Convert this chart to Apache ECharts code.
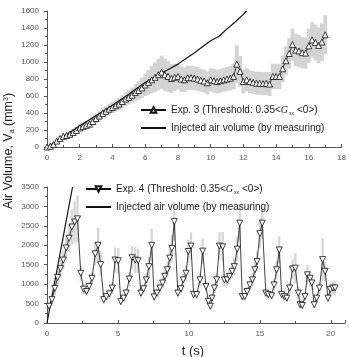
<!DOCTYPE html>
<html>
<head>
<meta charset="utf-8">
<script src="https://cdn.jsdelivr.net/npm/echarts@6/dist/echarts.min.js"></script>
<style>
	html, body { margin: 0; padding: 0; background: #fff; }
	#chart { width: 349px; height: 357px; }
</style>
</head>
<body>
<div id="chart"></div>
<script>
// Exp. 3 (top panel) - time (s), volume, half-width of grey band
var exp3Time = [0, 0.2, 0.4, 0.6, 0.8, 1.0, 1.2, 1.4, 1.6, 1.8,
	2.0, 2.2, 2.4, 2.6, 2.8, 3.0, 3.2, 3.4, 3.6, 3.8,
	4.0, 4.2, 4.4, 4.6, 4.8, 5.0, 5.2, 5.4, 5.6, 5.8,
	6.0, 6.2, 6.4, 6.6, 6.8, 7.0, 7.2, 7.4, 7.6, 7.8,
	8.0, 8.2, 8.4, 8.6, 8.8, 9.0, 9.2, 9.4, 9.6, 9.8,
	10.0, 10.2, 10.4, 10.6, 10.8, 11.0, 11.2, 11.4, 11.6, 11.8,
	12.0, 12.2, 12.4, 12.6, 12.8, 13.0, 13.2, 13.4, 13.6, 13.8,
	14.0, 14.2, 14.4, 14.6, 14.8, 15.0, 15.2, 15.4, 15.6, 15.8,
	16.0, 16.2, 16.4, 16.6, 16.8, 17.0];
var exp3Vol = [0, 10, 30, 70, 100, 125, 135, 150, 170, 195,
	225, 240, 255, 270, 300, 335, 365, 395, 420, 445,
	465, 485, 505, 535, 565, 585, 610, 640, 665, 695,
	730, 760, 790, 820, 850, 880, 850, 830, 805, 820,
	830, 800, 790, 815, 815, 810, 800, 785, 775, 755,
	790, 780, 770, 780, 790, 800, 810, 830, 975, 890,
	770, 790, 770, 760, 750, 750, 745, 750, 740, 830,
	830, 830, 920, 1015, 1100, 1205, 1140, 1130, 1110, 1105,
	1190, 1260, 1230, 1195, 1235, 1320];
var exp3Err = [10, 15, 20, 25, 30, 35, 35, 40, 40, 40,
	45, 45, 50, 50, 50, 55, 55, 60, 60, 65,
	65, 70, 70, 75, 80, 85, 90, 100, 110, 120,
	130, 145, 160, 175, 185, 195, 190, 180, 170, 160,
	150, 150, 145, 145, 140, 140, 140, 135, 135, 135,
	135, 140, 140, 140, 140, 140, 145, 150, 220, 180,
	140, 135, 135, 135, 135, 135, 135, 135, 140, 150,
	150, 150, 160, 170, 180, 190, 190, 190, 185, 185,
	200, 210, 210, 210, 220, 230];

// injected air volume, top panel
var inj3Time = [0, 0.5, 1, 1.5, 2, 2.5, 3, 3.5, 4, 4.5, 5, 5.5, 6, 6.5, 7, 7.5, 8, 8.5, 9, 9.5, 10, 10.5, 11, 11.5, 12, 12.2];
var inj3Vol = [0, 55, 120, 185, 250, 310, 370, 430, 490, 555, 620, 690, 760, 815, 870, 920, 975, 1040, 1105, 1180, 1250, 1300, 1390, 1470, 1560, 1600];

// Exp. 4 (bottom panel)
var exp4Time = [0.15, 0.35, 0.55, 0.75, 0.95, 1.15, 1.35, 1.55, 1.75, 1.95,
	2.15, 2.38, 2.58, 2.78, 2.97, 3.17, 3.4, 3.6, 3.78, 4.0,
	4.18, 4.4, 4.6, 4.8, 5.02, 5.2, 5.4, 5.58, 5.8, 6.0,
	6.22, 6.42, 6.62, 6.8, 7.0, 7.18, 7.38, 7.55, 7.75, 7.95,
	8.15, 8.3, 8.48, 8.65, 8.8, 8.97, 9.22, 9.44, 9.6, 9.8,
	9.96, 10.15, 10.33, 10.55, 10.78, 10.97, 11.2, 11.37, 11.51, 11.63,
	11.8, 11.96, 12.15, 12.38, 12.5, 12.7, 12.86, 13.05, 13.2, 13.4,
	13.58, 13.76, 13.93, 14.1, 14.3, 14.48, 14.65, 14.8, 15.0, 15.17,
	15.42, 15.59, 15.83, 16.0, 16.18, 16.37, 16.54, 16.73, 16.9, 17.1,
	17.3, 17.5, 17.71, 17.83, 17.99, 18.18, 18.35, 18.54, 18.66, 18.83,
	19.0, 19.2, 19.42, 19.6, 19.8, 19.96, 20.15, 20.3];
var exp4Vol = [430, 600, 890, 1170, 1400, 1620, 1930, 2180, 2470, 2600,
	2680, 1280, 870, 810, 940, 1150, 1780, 2000, 1500, 600,
	680, 750, 900, 1620, 1600, 550, 640, 770, 1130, 1680,
	1620, 1600, 770, 880, 1110, 1450, 2000, 670, 770, 900,
	1030, 1200, 1370, 1670, 1920, 2610, 770, 880, 1110, 1280,
	1840, 1980, 730, 730, 1110, 1850, 940, 560, 430, 640,
	900, 1110, 1980, 1960, 1110, 1110, 1200, 1330, 1450, 1900,
	2570, 680, 680, 810, 980, 1110, 1370, 1580, 2300, 2570,
	770, 730, 700, 980, 1370, 1880, 730, 680, 640, 900,
	1390, 1410, 770, 470, 450, 680, 1240, 1150, 1030, 470,
	640, 900, 1630, 1330, 640, 860, 900, 900];
var exp4Err = [120, 150, 180, 200, 220, 250, 280, 350, 450, 550,
	600, 200, 130, 100, 120, 150, 300, 450, 300, 100,
	100, 120, 150, 320, 330, 80, 100, 120, 180, 300,
	330, 300, 120, 130, 180, 250, 430, 100, 110, 130,
	150, 170, 200, 280, 350, 500, 100, 120, 160, 200,
	300, 350, 100, 100, 160, 330, 130, 90, 80, 100,
	130, 180, 350, 380, 160, 160, 180, 200, 230, 320,
	480, 100, 100, 120, 150, 180, 220, 260, 380, 420,
	110, 100, 100, 150, 230, 350, 100, 100, 100, 140,
	250, 380, 150, 80, 80, 110, 250, 200, 170, 80,
	100, 150, 550, 250, 100, 150, 170, 170];

// injected air volume, bottom panel
var inj4Time = [0, 1.8];
var inj4Vol = [0, 3500];

// tick labels
var xTop = [0, 2, 4, 6, 8, 10, 12, 14, 16, 18];
var xBot = [0, 5, 10, 15, 20];

function pairs(t, v) {
	var out = [];
	for (var i = 0; i < t.length; i++) out.push([t[i], v[i]]);
	return out;
}
function bands(t, v, e) {
	var out = [];
	for (var i = 0; i < t.length; i++) out.push([t[i], v[i] - e[i], v[i] + e[i]]);
	return out;
}
function bandItem(fixedW) {
	return function(params, api) {
		var hi = api.coord([api.value(0), api.value(2)]);
		var lo = api.coord([api.value(0), Math.max(api.value(1), 0)]);
		var w = fixedW || api.size([0.2, 0])[0] + 0.6;
		return {
			type: 'rect',
			shape: { x: hi[0] - w / 2, y: hi[1], width: w, height: lo[1] - hi[1] },
			style: { fill: '#d4d4d4' }
		};
	};
}

var FONT = 'Liberation Sans, Arial, sans-serif';
var axisCol = '#555';
var labelStyle = { fontSize: 8, color: '#555', fontFamily: FONT };

function xAxisOpt(idx, max, step, labels) {
	return {
		type: 'value', gridIndex: idx, min: 0, max: max, interval: step,
		axisLine: { lineStyle: { color: axisCol, width: 1 } },
		axisTick: { inside: true, length: 3, lineStyle: { color: axisCol } },
		minorTick: { show: true, splitNumber: 2, length: 2, lineStyle: { color: axisCol } },
		splitLine: { show: false },
		axisLabel: Object.assign({ margin: 7, showMaxLabel: labels.indexOf(max) >= 0,
			formatter: function(v) { return labels.indexOf(v) >= 0 ? String(v) : ''; } }, labelStyle)
	};
}
function yAxisOpt(idx, max, step) {
	return {
		type: 'value', gridIndex: idx, min: 0, max: max, interval: step,
		axisLine: { show: true, lineStyle: { color: axisCol, width: 1 } },
		axisTick: { show: true, inside: false, length: 3, lineStyle: { color: axisCol } },
		minorTick: { show: true, splitNumber: 2, length: 2, lineStyle: { color: axisCol } },
		splitLine: { show: false },
		axisLabel: Object.assign({ margin: 8, formatter: function(v) { return String(v); } }, labelStyle)
	};
}

var legendRich = {
	g: { fontStyle: 'italic', fontFamily: 'Liberation Serif', fontSize: 10, color: '#222', lineHeight: 12 },
	s: { fontSize: 5, color: '#222', verticalAlign: 'bottom', lineHeight: 12, padding: [4, 3, 0, 1] }
};
var legendNames = {
	exp3: 'Exp. 3 (Threshold: 0.35<{g|G}{s|xx}<0>)',
	inj3: 'Injected air volume (by measuring)',
	exp4: 'Exp. 4 (Threshold: 0.35<{g|G}{s|xx}<0>)',
	inj4: 'Injected air volume (by measuring)'
};
function legendOpt(left, top, names) {
	return {
		left: left, top: top, orient: 'vertical',
		data: [{ name: names[0] },
			{ name: names[1], itemStyle: { color: 'rgba(0,0,0,0)', borderColor: 'rgba(0,0,0,0)', borderWidth: 0 } }],
		itemWidth: 25, itemHeight: 7, itemGap: 6, padding: 0,
		formatter: function(n) { return legendNames[n]; },
		textStyle: { fontSize: 10, color: '#222', fontFamily: FONT, lineHeight: 12, rich: legendRich }
	};
}

function markerLine(name, xi, data, rot) {
	return {
		name: name, type: 'line', xAxisIndex: xi, yAxisIndex: xi, data: data,
		symbol: 'triangle', symbolSize: 6, symbolRotate: rot,
		showAllSymbol: true, z: 4,
		itemStyle: { color: '#fff', borderColor: '#111', borderWidth: 0.8 },
		lineStyle: { color: '#111', width: 0.8 }
	};
}
function plainLine(name, xi, data) {
	return {
		name: name, type: 'line', xAxisIndex: xi, yAxisIndex: xi, data: data,
		symbol: 'none', z: 3,
		itemStyle: { color: '#111' },
		lineStyle: { color: '#111', width: 1.2 }
	};
}

var option = {
	backgroundColor: '#fff',
	animation: false,
	grid: [
		{ left: 47, top: 11, width: 297, height: 136 },
		{ left: 47, top: 187, width: 298, height: 136 }
	],
	xAxis: [xAxisOpt(0, 18, 2, xTop), xAxisOpt(1, 21, 5, xBot)],
	yAxis: [yAxisOpt(0, 1600, 200), yAxisOpt(1, 3500, 500)],
	legend: [legendOpt(140, 104, ['exp3', 'inj3']), legendOpt(85, 183, ['exp4', 'inj4'])],
	graphic: [
		{
			type: 'text', x: 9, y: 151, rotation: Math.PI / 2,
			style: {
				text: 'Air Volume, V{sub|a} (mm{sup|3})',
				font: '12.5px ' + FONT, fill: '#222', align: 'center', verticalAlign: 'middle',
				rich: {
					sub: { fontSize: 7, fill: '#222', verticalAlign: 'bottom', padding: [6, 0, 0, 0] },
					sup: { fontSize: 7, fill: '#222', verticalAlign: 'top', padding: [0, 0, 6, 0] }
				}
			}
		},
		{
			type: 'text', x: 193, y: 351,
			style: { text: 't (s)', font: '13px ' + FONT, fill: '#222', align: 'center', verticalAlign: 'middle' }
		}
	],
	series: [
		{ type: 'custom', xAxisIndex: 0, yAxisIndex: 0, renderItem: bandItem(0), data: bands(exp3Time, exp3Vol, exp3Err), z: 1, silent: true },
		plainLine('inj3', 0, pairs(inj3Time, inj3Vol)),
		markerLine('exp3', 0, pairs(exp3Time, exp3Vol), 0),
		{ type: 'custom', xAxisIndex: 1, yAxisIndex: 1, renderItem: bandItem(2.2), data: bands(exp4Time, exp4Vol, exp4Err), z: 1, silent: true },
		plainLine('inj4', 1, pairs(inj4Time, inj4Vol)),
		markerLine('exp4', 1, pairs(exp4Time, exp4Vol), 180)
	]
};

var myChart = echarts.init(document.getElementById('chart'));
myChart.setOption(option);
</script>
</body>
</html>
